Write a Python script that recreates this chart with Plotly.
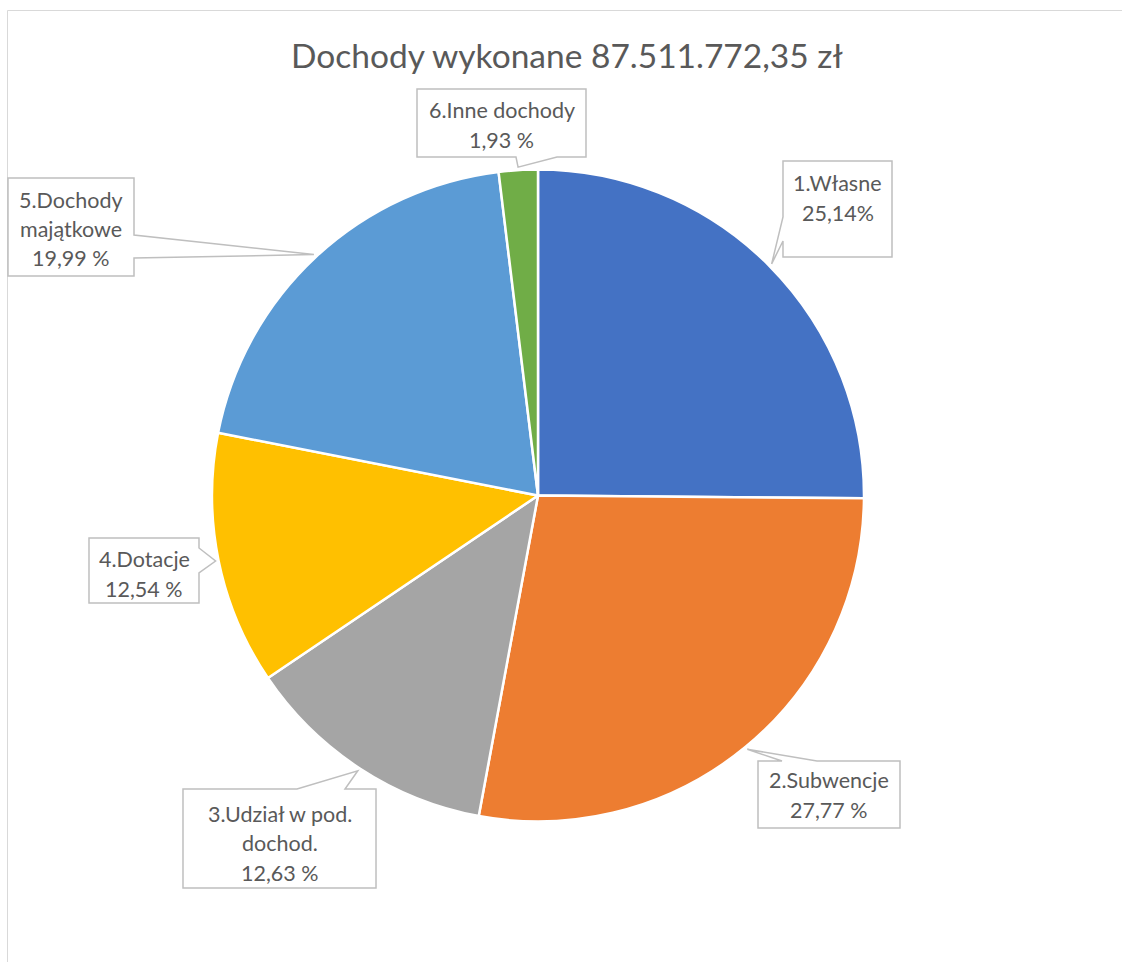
import math
import plotly.graph_objects as go

# ---------------- data ----------------
name_lines = [["1.Własne"], ["2.Subwencje"], ["3.Udział w pod.", "dochod."],
              ["4.Dotacje"], ["5.Dochody", "majątkowe"], ["6.Inne dochody"]]
shares = [25.14, 27.77, 12.63, 12.54, 19.99, 1.93]
pct_text = ["25,14%", "27,77 %", "12,63 %", "12,54 %", "19,99 %", "1,93 %"]
colors = ["#4472C4", "#ED7D31", "#A5A5A5", "#FFC000", "#5B9BD5", "#70AD47"]
title_text = "Dochody wykonane 87.511.772,35 zł"

# ---------------- layout constants (pixels) ----------------
W, H = 1122, 962
CX, CY, R = 538.0, 495.5, 326.0
FONT = "Lato"
TXT = "#595959"

# callout boxes: (x0, y0, x1, y1), wedge side, wedge base span, text centre y
boxes = [
    ((783, 161, 892, 257), "left", (217, 241), 198),
    ((758, 761, 900, 828), "top", (782, 817), 795),
    ((183, 789, 376, 888), "top", (297, 345), 843),
    ((89, 538, 199, 603), "right", (548, 573), 574),
    ((8, 178, 134, 276), "right", (235, 258), 229),
    ((417, 89, 586, 157), "bottom", (516, 557), 125),
]
LINE_H = 29.5


def px(x):
    return x / W


def py(y):
    return 1 - y / H


labels = [" ".join(n) for n in name_lines]

fig = go.Figure(go.Pie(
    labels=labels,
    values=shares,
    sort=False,
    direction="clockwise",
    rotation=0,
    marker=dict(colors=colors, line=dict(color="white", width=2.5)),
    textinfo="none",
    hoverinfo="label+percent",
    showlegend=False,
    domain=dict(x=[px(CX - R), px(CX + R)], y=[py(CY + R), py(CY - R)]),
))

shapes = []
annotations = []

# chart area border
shapes.append(dict(type="rect", xref="paper", yref="paper",
                   x0=px(7.5), x1=px(W + 20), y0=py(10.5), y1=py(H + 20),
                   line=dict(color="#D9D9D9", width=1), fillcolor="rgba(0,0,0,0)",
                   layer="below"))

total = sum(shares)
cum = 0.0
for i, v in enumerate(shares):
    mid = (cum + v / 2) / total * 2 * math.pi
    cum += v
    tx = CX + (R + 3) * math.sin(mid)
    ty = CY - (R + 3) * math.cos(mid)
    (x0, y0, x1, y1), side, (a, b), tcy = boxes[i]
    pts = [(x0, y0)]
    if side == "top":
        pts += [(a, y0), (tx, ty), (b, y0)]
    pts.append((x1, y0))
    if side == "right":
        pts += [(x1, a), (tx, ty), (x1, b)]
    pts.append((x1, y1))
    if side == "bottom":
        pts += [(b, y1), (tx, ty), (a, y1)]
    pts.append((x0, y1))
    if side == "left":
        pts += [(x0, b), (tx, ty), (x0, a)]
    path = "M " + " L ".join(f"{px(x):.5f},{py(y):.5f}" for x, y in pts) + " Z"
    shapes.append(dict(type="path", xref="paper", yref="paper", path=path,
                       fillcolor="white", line=dict(color="#BFBFBF", width=1.5),
                       layer="above"))
    lines = name_lines[i] + [pct_text[i]]
    n = len(lines)
    cx = (x0 + x1) / 2
    for k, t in enumerate(lines):
        yy = tcy + (k - (n - 1) / 2) * LINE_H
        annotations.append(dict(xref="paper", yref="paper", x=px(cx), y=py(yy),
                                text=t, showarrow=False, xanchor="center",
                                yanchor="middle",
                                font=dict(family=FONT, size=21.5, color=TXT)))

annotations.append(dict(xref="paper", yref="paper", x=px(566.5), y=py(55),
                        text=title_text, showarrow=False, xanchor="center",
                        yanchor="middle",
                        font=dict(family=FONT, size=33.5, color=TXT)))

fig.update_layout(width=W, height=H, margin=dict(l=0, r=0, t=0, b=0),
                  paper_bgcolor="white", plot_bgcolor="white",
                  shapes=shapes, annotations=annotations, showlegend=False)

fig.write_html("out.html")
